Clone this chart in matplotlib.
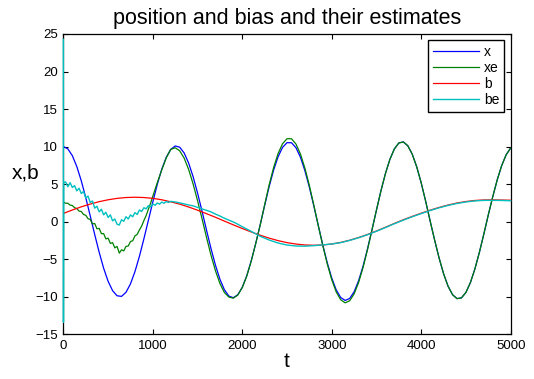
import matplotlib
matplotlib.use('Agg')
import matplotlib.pyplot as plt
import numpy as np

plt.rcParams['font.family'] = ['Liberation Sans', 'DejaVu Sans']

# position x (blue), sampled every 50
t_x = np.arange(0, 5001, 50)
x_vals = [10.00, 9.69, 8.79, 7.34, 5.44, 3.20, 0.77, -1.71, -4.08, -6.21,
          -7.95, -9.20, -9.88, -9.96, -9.42, -8.29, -6.66, -4.62, -2.29, 0.18,
          2.63, 4.98, 6.99, 8.57, 9.62, 10.08, 9.92, 9.15, 7.81, 5.99,
          3.80, 1.39, -1.13, -3.58, -5.81, -7.68, -9.08, -9.92, -10.14, -9.74,
          -8.74, -7.21, -5.22, -2.91, -0.44, 2.15, 4.66, 6.86, 8.64, 9.89,
          10.52, 10.51, 9.85, 8.58, 6.78, 4.57, 2.07, -0.55, -3.12, -5.49,
          -7.52, -9.10, -10.11, -10.50, -10.24, -9.35, -7.88, -5.93, -3.61, -1.07,
          1.54, 4.11, 6.40, 8.30, 9.69, 10.48, 10.62, 10.11, 8.98, 7.29,
          5.16, 2.70, 0.08, -2.46, -4.85, -6.94, -8.60, -9.73, -10.26, -10.16,
          -9.43, -8.12, -6.31, -4.11, -1.66, 0.90, 3.33, 5.58, 7.48, 8.92,
          9.81]

# position estimate xe (green)
t_xe = np.concatenate([np.arange(0, 1001, 25), np.arange(1050, 5001, 50)])
xe_vals = [2.6, 2.45, 2.45, 2.2, 2.15, 1.85, 1.75, 1.4, 1.35, 0.95,
           0.85, 0.4, 0.3, -0.3, -0.25, -0.95, -0.9, -1.6, -1.6, -2.3,
           -2.2, -2.9, -2.8, -3.5, -3.3, -4.2, -3.75, -3.9, -3.3, -3.25,
           -2.65, -2.55, -1.9, -1.7, -1.1, -0.6, 0.15, 0.8, 1.65, 2.45,
           3.4,
           5.2, 6.9, 8.5, 9.63, 9.84, 9.44, 8.46, 6.96, 5.02, 2.78,
           0.37, -2.10, -4.47, -6.55, -8.25, -9.45, -10.05, -10.2, -9.78, -8.78,
           -7.25, -5.25, -2.93, -0.45, 2.26, 4.89, 7.20, 9.07, 10.38, 11.05,
           11.04, 10.34, 9.01, 7.12, 4.80, 2.17, -0.57, -3.21, -5.65, -7.75,
           -9.37, -10.41, -10.82, -10.55, -9.63, -8.12, -6.11, -3.72, -1.10, 1.57,
           4.11, 6.40, 8.30, 9.69, 10.48, 10.62, 10.11, 8.98, 7.29, 5.16,
           2.70, 0.08, -2.46, -4.85, -6.94, -8.60, -9.73, -10.26, -10.16, -9.43,
           -8.12, -6.31, -4.11, -1.66, 0.90, 3.33, 5.58, 7.48, 8.92, 9.81]

# bias b (red), sampled every 100
t_b = np.arange(0, 5001, 100)
b_vals = [1.09, 1.55, 1.97, 2.34, 2.66, 2.91, 3.10, 3.21, 3.25, 3.21,
          3.10, 2.91, 2.64, 2.33, 1.95, 1.52, 1.06, 0.58, 0.07, -0.43,
          -0.92, -1.38, -1.81, -2.20, -2.53, -2.80, -2.99, -3.11, -3.15, -3.11,
          -2.98, -2.77, -2.48, -2.12, -1.71, -1.25, -0.75, -0.24, 0.25, 0.70,
          1.12, 1.53, 1.89, 2.21, 2.48, 2.68, 2.82, 2.89, 2.90, 2.88,
          2.85]

# bias estimate be (cyan)
t_be = np.concatenate([[0, 1, 3], np.arange(25, 1201, 25),
                       np.arange(1250, 2001, 50), np.arange(2100, 5001, 100)])
be_vals = [24.3, -13.4, 5.2,
           5.3, 4.65, 5.2, 4.55, 4.8, 4.1, 4.45, 3.75, 4.02, 3.15,
           3.4, 2.55, 2.75, 1.8, 2.05, 1.3, 1.65, 0.9, 1.25, 0.55,
           0.9, 0.1, 0.35, -0.35, -0.45, 0.25, 0.05, 0.65, 0.35, 0.9,
           0.65, 1.2, 0.95, 1.55, 1.35, 1.85, 1.7, 2.13, 1.95, 2.34,
           2.18, 2.48, 2.33, 2.6, 2.45, 2.68, 2.55, 2.7,
           2.62, 2.5, 2.36, 2.22, 2.1, 1.9, 1.7, 1.5, 1.3, 1.0,
           0.75, 0.45, 0.2, -0.05, -0.35, -0.68,
           -1.3, -1.95, -2.45, -2.85, -3.12, -3.25, -3.27, -3.2, -3.1, -2.98,
           -2.8, -2.5, -2.15, -1.74, -1.28, -0.79, -0.28, 0.2, 0.65, 1.07,
           1.48, 1.84, 2.16, 2.42, 2.62, 2.76, 2.83, 2.84, 2.82, 2.78]

fig = plt.figure(figsize=(5.34, 3.79), dpi=100)
ax = fig.add_axes([0.1187, 0.1182, 0.8376, 0.7921])

ax.plot(t_x, x_vals, color='#0000ff', lw=0.9, label='x')
ax.plot(t_xe, xe_vals, color='#008000', lw=0.9, label='xe')
ax.plot(t_b, b_vals, color='#ff0000', lw=0.9, label='b')
# the start-up spike sits on the left spine, so draw it above the axes frame
ax.plot(t_be, be_vals, color='#00bfbf', lw=1.0, label='be',
        zorder=3, clip_on=False)

ax.set_xlim(0, 5000)
ax.set_ylim(-15, 25)
ax.set_xticks(np.arange(0, 5001, 1000))
ax.set_yticks(np.arange(-15, 26, 5))
ax.tick_params(direction='in', top=True, right=True, length=3.5, width=0.8,
               labelsize=9.5, pad=4)
for s in ax.spines.values():
    s.set_linewidth(0.9)

ax.set_title('position and bias and their estimates', fontsize=15.5, pad=7)
ax.set_xlabel('t', fontsize=15, labelpad=0)
ax.set_ylabel('x,b', fontsize=15, rotation=0, ha='center', va='center')
ax.yaxis.set_label_coords(-0.0835, 0.537)

leg = ax.legend(loc='upper right', fontsize=10, frameon=True, fancybox=False,
                edgecolor='black', framealpha=1, handlelength=3.3,
                labelspacing=0.15, borderpad=0.35, handletextpad=0.4,
                borderaxespad=0.45)
leg.get_frame().set_linewidth(1.0)
leg.set_zorder(5)

fig.savefig('out.png', dpi=100)
